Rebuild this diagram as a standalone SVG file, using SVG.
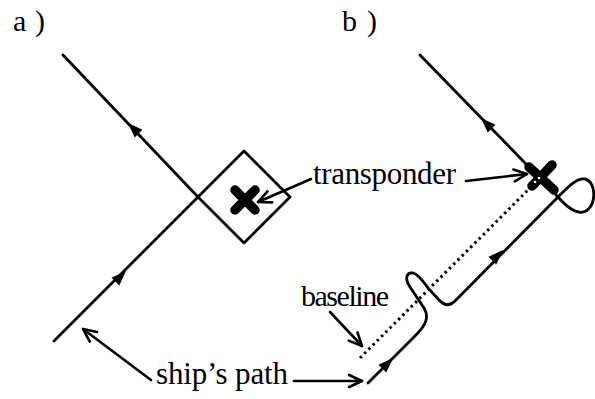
<svg xmlns="http://www.w3.org/2000/svg" width="595" height="399" viewBox="0 0 595 399">
<style>
.ln{fill:none;stroke:#000;stroke-width:2.8;stroke-linecap:round;stroke-linejoin:round}
.lbl{fill:none;stroke:#000;stroke-width:2.6;stroke-linecap:round}
.xm{stroke:#000;stroke-width:9.5;stroke-linecap:round}
.dot{fill:none;stroke:#000;stroke-width:3;stroke-dasharray:2.5 3.5}
text{font-family:"Liberation Serif","Times New Roman",serif;fill:#000}
</style>
<defs>
<path id="tri" d="M0,0 L-15,-5.5 L-15,5.5 Z" fill="#000"/>
<marker id="open" markerUnits="userSpaceOnUse" markerWidth="20" markerHeight="20" viewBox="-16 -10 20 20" refX="0" refY="0" orient="auto">
<path d="M-13,-6 L0,0 L-13,6" fill="none" stroke="#000" stroke-width="2.6" stroke-linecap="round" stroke-linejoin="round"/>
</marker>
</defs>

<g id="label-a"><text x="13" y="31" font-size="30" textLength="32">a )</text></g>
<g id="label-b"><text x="342" y="31" font-size="30" textLength="35">b )</text></g>

<g id="panel-a-path">
<polyline class="ln" points="63,55 198,197 54,341"/>
<use href="#tri" transform="translate(128,123) rotate(-135)"/>
<use href="#tri" transform="translate(126,271) rotate(-45)"/>
</g>
<g id="panel-a-transponder">
<polygon class="ln" points="244,151 290,197 244,243 198,197"/>
<line class="xm" x1="235" y1="190" x2="255" y2="210"/>
<line class="xm" x1="255" y1="190" x2="235" y2="210"/>
</g>

<g id="panel-b-baseline">
<line class="dot" x1="360" y1="358" x2="533" y2="185"/>
</g>
<g id="panel-b-path">
<path class="ln" d="M368,383 L415,336 C425,326 430,318 424,308 L410,287 C404,278 407,272 413,273 C418,274 422,280 428,288 L440,301 C445,306 450,306 455,301 L558,197 C568,187 576,178 585,179 C596,181 597,205 586,211 C577,216 566,206 558,197 L420,55"/>
<use href="#tri" transform="translate(481,118) rotate(-135)"/>
<use href="#tri" transform="translate(503,250) rotate(-45)"/>
<use href="#tri" transform="translate(393,358) rotate(-45)"/>
</g>
<g id="panel-b-transponder">
<line class="xm" x1="529" y1="167" x2="554" y2="190"/>
<line class="xm" x1="552" y1="165" x2="532" y2="186"/>
<circle cx="535" cy="182" r="1.3" fill="#fff"/>
<circle cx="539" cy="178" r="1.3" fill="#fff"/>
</g>

<g id="connectors">
<line class="lbl" x1="311" y1="179" x2="258" y2="202" marker-end="url(#open)"/>
<line class="lbl" x1="466" y1="181" x2="527" y2="174" marker-end="url(#open)"/>
<line class="lbl" x1="330" y1="312" x2="362" y2="346" marker-end="url(#open)"/>
<line class="lbl" x1="151" y1="380" x2="83" y2="329" marker-end="url(#open)"/>
<line class="lbl" x1="294" y1="381" x2="362" y2="381" marker-end="url(#open)"/>
</g>

<g id="texts">
<text x="313" y="184" font-size="31" textLength="143">transponder</text>
<text x="301" y="306" font-size="30" textLength="88">baseline</text>
<text x="156" y="384" font-size="31" textLength="132">ship’s path</text>
</g>
</svg>
